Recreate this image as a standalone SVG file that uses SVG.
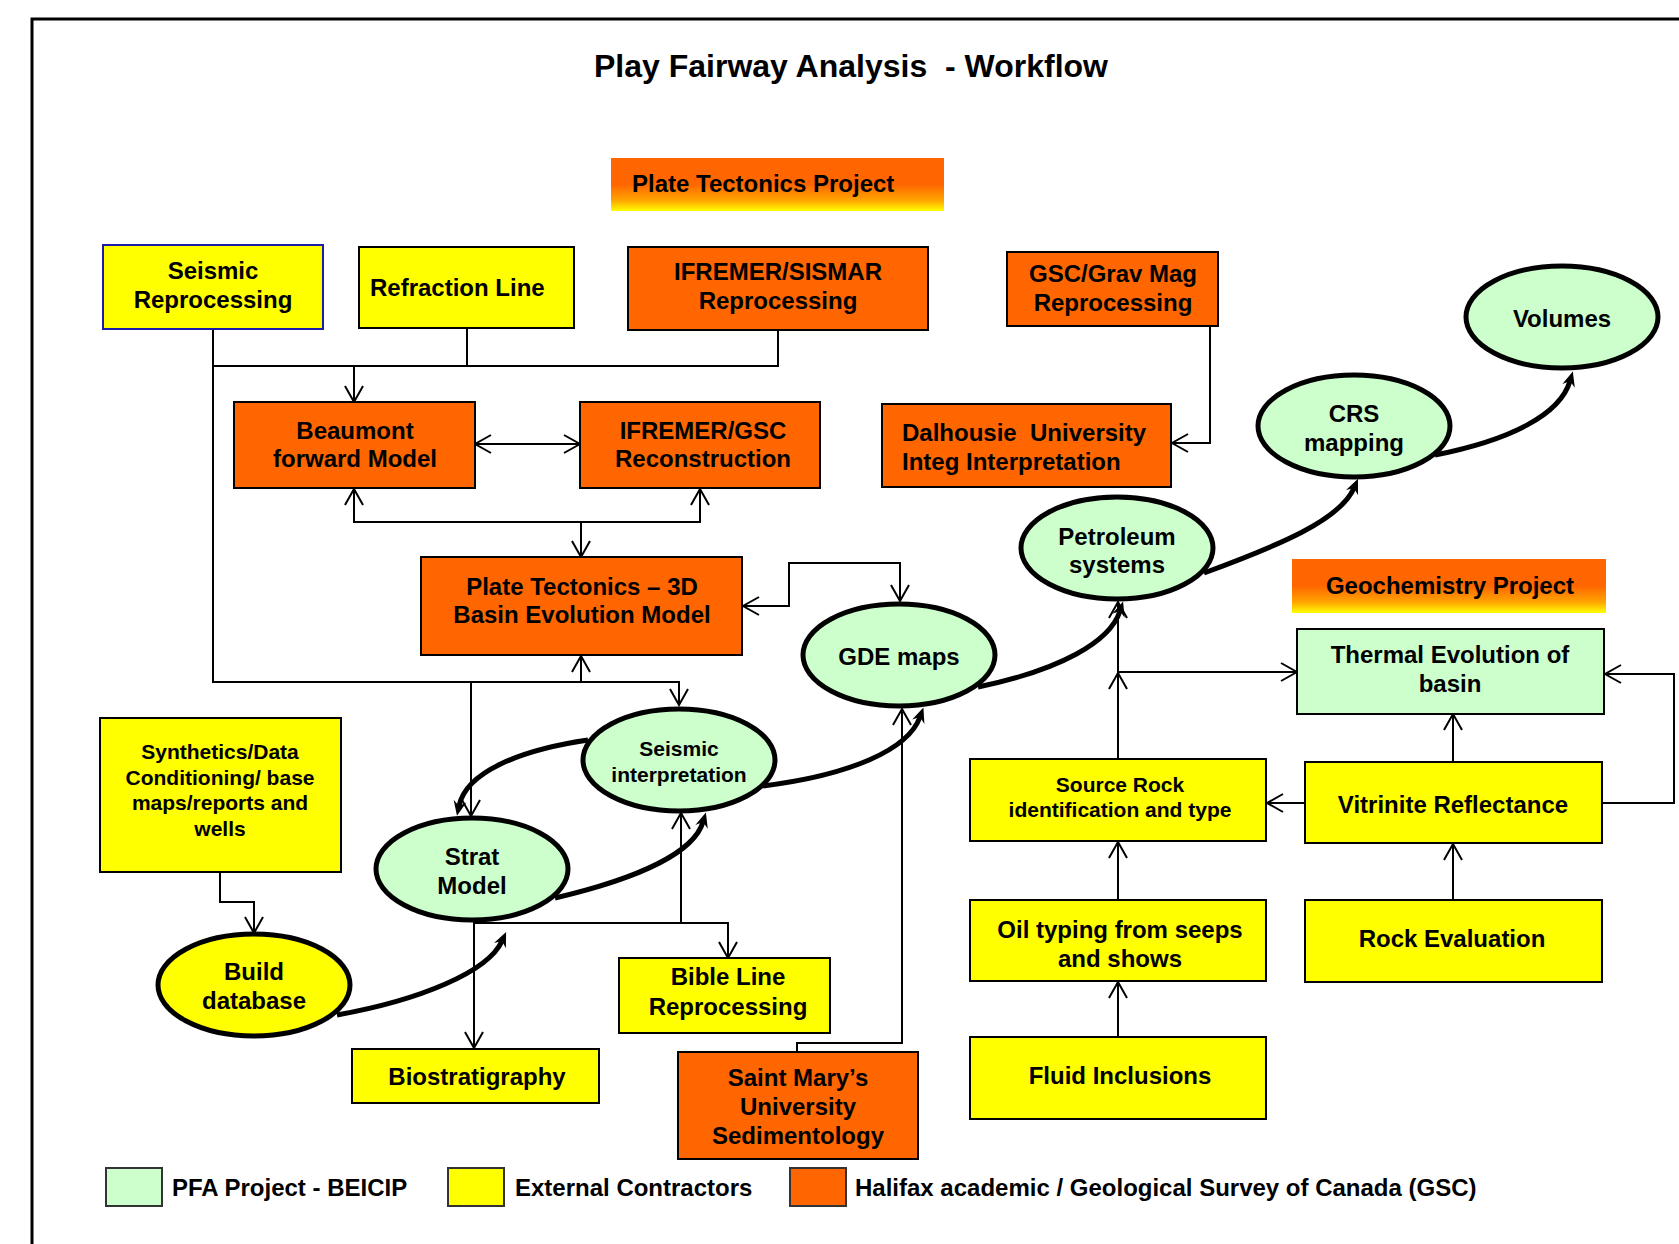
<svg xmlns="http://www.w3.org/2000/svg" width="1679" height="1244" viewBox="0 0 1679 1244">
  <style>
    text { font-family: "Liberation Sans", Arial, sans-serif; font-weight: bold; fill: #000; dominant-baseline: central; }
    .c { text-anchor: middle; }
    .l { text-anchor: start; }
    .t24 { font-size: 24px; }
    .t21 { font-size: 21px; }
    .org { fill: #FF6600; stroke: #000; stroke-width: 2; }
    .yel { fill: #FFFF00; stroke: #000; stroke-width: 2; }
    .grn { fill: #CCFFCC; stroke: #000; stroke-width: 2; }
    .ell { stroke: #000; stroke-width: 5; }
    .wire { fill: none; stroke: #000; stroke-width: 2; }
    .flow { fill: none; stroke: #000; stroke-width: 5; }
    .leg { stroke: #333; stroke-width: 2; }
  </style>
  <defs>
    <linearGradient id="projGrad" x1="0" y1="0" x2="0" y2="1">
      <stop offset="0" stop-color="#FF6600"/>
      <stop offset="0.5" stop-color="#FF6600"/>
      <stop offset="0.8" stop-color="#FFA500"/>
      <stop offset="1" stop-color="#FFFF00"/>
    </linearGradient>
    <marker id="open" viewBox="0 0 20 20" refX="18" refY="10" markerWidth="20" markerHeight="20" markerUnits="userSpaceOnUse" orient="auto-start-reverse">
      <path d="M2,1 L18,10 L2,19" fill="none" stroke="#000" stroke-width="2"/>
    </marker>
    <marker id="barb" viewBox="0 0 16 14" refX="5" refY="7" markerWidth="16" markerHeight="14" markerUnits="userSpaceOnUse" orient="auto">
      <path d="M0,0.5 L15,7 L0,13.5 L5,7 Z" fill="#000"/>
    </marker>
  </defs>

  <rect width="1679" height="1244" fill="#fff"/>

  <!-- page frame -->
  <path d="M32,1244 V19 H1679" fill="none" stroke="#000" stroke-width="3"/>

  <text class="c" x="851" y="66" style="font-size:32px" xml:space="preserve">Play Fairway Analysis  - Workflow</text>

  <!-- project headers -->
  <g id="plate-tectonics-project">
    <rect x="611" y="158" width="333" height="53" fill="url(#projGrad)"/>
    <text class="l t24" x="632" y="183">Plate Tectonics Project</text>
  </g>
  <g id="geochemistry-project">
    <rect x="1292" y="559" width="314" height="54" fill="url(#projGrad)"/>
    <text class="c t24" x="1450" y="585">Geochemistry Project</text>
  </g>

  <!-- connectors -->
  <g id="connectors">
    <path class="wire" d="M213,330 V682 H679 V705" marker-end="url(#open)"/>
    <path class="wire" d="M467,328 V366"/>
    <path class="wire" d="M778,330 V366 H213"/>
    <path class="wire" d="M354,366 V402" marker-end="url(#open)"/>
    <path class="wire" d="M475,444 H580" marker-start="url(#open)" marker-end="url(#open)"/>
    <path class="wire" d="M354,489 V522 H700 V489" marker-start="url(#open)" marker-end="url(#open)"/>
    <path class="wire" d="M581,522 V557" marker-end="url(#open)"/>
    <path class="wire" d="M581,682 V656" marker-end="url(#open)"/>
    <path class="wire" d="M471,682 V816" marker-end="url(#open)"/>
    <path class="wire" d="M743,606 H789 V563 H900 V601" marker-start="url(#open)" marker-end="url(#open)"/>
    <path class="wire" d="M1210,326 V443 H1172" marker-end="url(#open)"/>
    <path class="wire" d="M474,922 V1048" marker-end="url(#open)"/>
    <path class="wire" d="M474,923 H728 V958" marker-end="url(#open)"/>
    <path class="wire" d="M681,923 V813" marker-end="url(#open)"/>
    <path class="wire" d="M797,1052 V1043 H902 V709" marker-end="url(#open)"/>
    <path class="wire" d="M220,872 V902 H254 V933" marker-end="url(#open)"/>
    <path class="wire" d="M1118,759 V673" marker-end="url(#open)"/>
    <path class="wire" d="M1118,673 V602" marker-end="url(#open)"/>
    <path class="wire" d="M1118,672 H1297" marker-end="url(#open)"/>
    <path class="wire" d="M1305,803 H1267" marker-end="url(#open)"/>
    <path class="wire" d="M1602,803 H1674 V674 H1605" marker-end="url(#open)"/>
    <path class="wire" d="M1453,762 V714" marker-end="url(#open)"/>
    <path class="wire" d="M1118,900 V842" marker-end="url(#open)"/>
    <path class="wire" d="M1453,900 V844" marker-end="url(#open)"/>
    <path class="wire" d="M1118,1037 V982" marker-end="url(#open)"/>

    <!-- interpretation flow -->
    <path class="flow" d="M588,740 C520,750 466,772 459,806" marker-end="url(#barb)"/>
    <path class="flow" d="M555,898 C640,878 694,852 703,822" marker-end="url(#barb)"/>
    <path class="flow" d="M337,1015 C420,1000 488,972 502,941" marker-end="url(#barb)"/>
    <path class="flow" d="M763,786 C850,775 908,750 920,717" marker-end="url(#barb)"/>
    <path class="flow" d="M978,687 C1060,670 1110,642 1120,611" marker-end="url(#barb)"/>
    <path class="flow" d="M1204,573 C1280,545 1340,520 1354,488" marker-end="url(#barb)"/>
    <path class="flow" d="M1435,455 C1510,440 1560,415 1570,381" marker-end="url(#barb)"/>
  </g>

  <!-- input boxes -->
  <g id="seismic-reprocessing">
    <rect x="103" y="245" width="220" height="84" fill="#FFFF00" stroke="#1C1CA8" stroke-width="2"/>
    <text class="c t24" x="213" y="270">Seismic</text>
    <text class="c t24" x="213" y="299">Reprocessing</text>
  </g>
  <g id="refraction-line">
    <rect class="yel" x="359" y="247" width="215" height="81"/>
    <text class="l t24" x="370" y="287">Refraction Line</text>
  </g>
  <g id="ifremer-sismar">
    <rect class="org" x="628" y="247" width="300" height="83"/>
    <text class="c t24" x="778" y="271">IFREMER/SISMAR</text>
    <text class="c t24" x="778" y="300">Reprocessing</text>
  </g>
  <g id="gsc-grav-mag">
    <rect class="org" x="1007" y="252" width="211" height="74"/>
    <text class="c t24" x="1113" y="273">GSC/Grav Mag</text>
    <text class="c t24" x="1113" y="302">Reprocessing</text>
  </g>
  <g id="beaumont">
    <rect class="org" x="234" y="402" width="241" height="86"/>
    <text class="c t24" x="355" y="430">Beaumont</text>
    <text class="c t24" x="355" y="458">forward Model</text>
  </g>
  <g id="ifremer-gsc">
    <rect class="org" x="580" y="402" width="240" height="86"/>
    <text class="c t24" x="703" y="430">IFREMER/GSC</text>
    <text class="c t24" x="703" y="458">Reconstruction</text>
  </g>
  <g id="dalhousie">
    <rect class="org" x="882" y="404" width="289" height="83"/>
    <text class="l t24" x="902" y="432" xml:space="preserve">Dalhousie  University</text>
    <text class="l t24" x="902" y="461">Integ Interpretation</text>
  </g>
  <g id="plate-tectonics-3d">
    <rect class="org" x="421" y="557" width="321" height="98"/>
    <text class="c t24" x="582" y="586">Plate Tectonics – 3D</text>
    <text class="c t24" x="582" y="614">Basin Evolution Model</text>
  </g>
  <g id="synthetics">
    <rect class="yel" x="100" y="718" width="241" height="154"/>
    <text class="c t21" x="220" y="751">Synthetics/Data</text>
    <text class="c t21" x="220" y="777">Conditioning/ base</text>
    <text class="c t21" x="220" y="802">maps/reports and</text>
    <text class="c t21" x="220" y="828">wells</text>
  </g>
  <g id="bible-line">
    <rect class="yel" x="619" y="958" width="211" height="75"/>
    <text class="c t24" x="728" y="976">Bible Line</text>
    <text class="c t24" x="728" y="1006">Reprocessing</text>
  </g>
  <g id="biostratigraphy">
    <rect class="yel" x="352" y="1049" width="247" height="54"/>
    <text class="c t24" x="477" y="1076">Biostratigraphy</text>
  </g>
  <g id="saint-marys">
    <rect class="org" x="678" y="1052" width="240" height="107"/>
    <text class="c t24" x="798" y="1077">Saint Mary’s</text>
    <text class="c t24" x="798" y="1106">University</text>
    <text class="c t24" x="798" y="1135">Sedimentology</text>
  </g>

  <!-- geochemistry boxes -->
  <g id="thermal-evolution">
    <rect class="grn" x="1297" y="629" width="307" height="85"/>
    <text class="c t24" x="1450" y="654">Thermal Evolution of</text>
    <text class="c t24" x="1450" y="683">basin</text>
  </g>
  <g id="source-rock">
    <rect class="yel" x="970" y="759" width="296" height="82"/>
    <text class="c t21" x="1120" y="784">Source Rock</text>
    <text class="c t21" x="1120" y="809">identification and type</text>
  </g>
  <g id="vitrinite">
    <rect class="yel" x="1305" y="762" width="297" height="81"/>
    <text class="c t24" x="1453" y="804">Vitrinite Reflectance</text>
  </g>
  <g id="oil-typing">
    <rect class="yel" x="970" y="900" width="296" height="81"/>
    <text class="c t24" x="1120" y="929">Oil typing from seeps</text>
    <text class="c t24" x="1120" y="958">and shows</text>
  </g>
  <g id="rock-evaluation">
    <rect class="yel" x="1305" y="900" width="297" height="82"/>
    <text class="c t24" x="1452" y="938">Rock Evaluation</text>
  </g>
  <g id="fluid-inclusions">
    <rect class="yel" x="970" y="1037" width="296" height="82"/>
    <text class="c t24" x="1120" y="1075">Fluid Inclusions</text>
  </g>

  <!-- study ellipses -->
  <g id="volumes">
    <ellipse class="ell" cx="1562" cy="317" rx="96" ry="51" fill="#CCFFCC"/>
    <text class="c t24" x="1562" y="318">Volumes</text>
  </g>
  <g id="crs-mapping">
    <ellipse class="ell" cx="1354" cy="426" rx="96" ry="51" fill="#CCFFCC"/>
    <text class="c t24" x="1354" y="413">CRS</text>
    <text class="c t24" x="1354" y="442">mapping</text>
  </g>
  <g id="petroleum-systems">
    <ellipse class="ell" cx="1117" cy="548" rx="96" ry="51" fill="#CCFFCC"/>
    <text class="c t24" x="1117" y="536">Petroleum</text>
    <text class="c t24" x="1117" y="564">systems</text>
  </g>
  <g id="gde-maps">
    <ellipse class="ell" cx="899" cy="655" rx="96" ry="51" fill="#CCFFCC"/>
    <text class="c t24" x="899" y="656">GDE maps</text>
  </g>
  <g id="seismic-interpretation">
    <ellipse class="ell" cx="679" cy="760" rx="96" ry="51" fill="#CCFFCC"/>
    <text class="c t21" x="679" y="748">Seismic</text>
    <text class="c t21" x="679" y="774">interpretation</text>
  </g>
  <g id="strat-model">
    <ellipse class="ell" cx="472" cy="869" rx="96" ry="51" fill="#CCFFCC"/>
    <text class="c t24" x="472" y="856">Strat</text>
    <text class="c t24" x="472" y="885">Model</text>
  </g>
  <g id="build-database">
    <ellipse class="ell" cx="254" cy="985" rx="96" ry="51" fill="#FFFF00"/>
    <text class="c t24" x="254" y="971">Build</text>
    <text class="c t24" x="254" y="1000">database</text>
  </g>

  <!-- legend -->
  <g id="legend">
    <rect class="leg" x="106" y="1168" width="56" height="38" fill="#CCFFCC"/>
    <text class="l t24" x="172" y="1187">PFA Project - BEICIP</text>
    <rect class="leg" x="448" y="1168" width="56" height="38" fill="#FFFF00"/>
    <text class="l t24" x="515" y="1187">External Contractors</text>
    <rect class="leg" x="790" y="1168" width="56" height="38" fill="#FF6600"/>
    <text class="l t24" x="855" y="1187">Halifax academic / Geological Survey of Canada (GSC)</text>
  </g>
</svg>
